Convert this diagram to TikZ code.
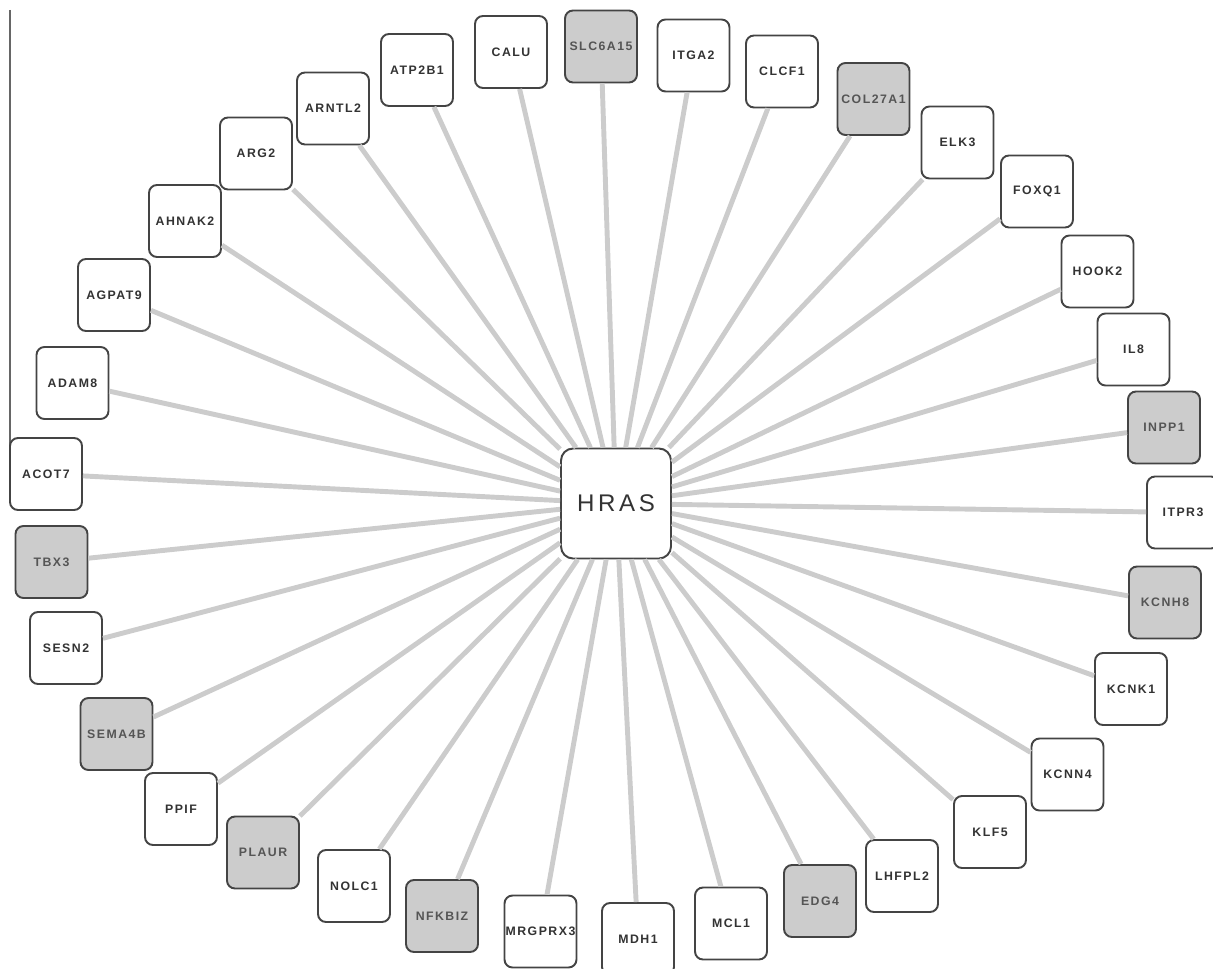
\documentclass[tikz,border=0pt]{standalone}
\usepackage{fontspec}
\setmainfont{Liberation Sans}
\newfontfamily\genefont{Liberation Sans}[LetterSpace=12]
\newfontfamily\hubfont{Liberation Sans}[LetterSpace=15]
\definecolor{boxline}{HTML}{444444}
\definecolor{genetext}{HTML}{333333}
\definecolor{hitfill}{HTML}{CCCCCC}
\definecolor{hittext}{HTML}{555555}
\definecolor{linkgray}{HTML}{CCCCCC}
\definecolor{frameline}{HTML}{666666}

\begin{document}
\begin{tikzpicture}[x=0.02cm, y=-0.02cm,
    gene/.style={draw=boxline, line width=1.1pt, rounded corners=0.16cm, fill=white,
        minimum size=1.44cm, inner sep=0pt, text=genetext,
        font=\genefont\bfseries\fontsize{7}{8}\selectfont},
    hit/.style={gene, fill=hitfill, text=hittext},
    hub/.style={gene, minimum size=2.2cm, rounded corners=0.24cm,
        font=\hubfont\fontsize{13.7}{16}\selectfont},
    link/.style={draw=linkgray, line width=2.8pt}]
    \useasboundingbox (0,0) rectangle (1213,969);
    \draw[frameline, line width=0.8pt] (10,10) -- (10,492);

    \node[hub] (hras) at (616,503.5) {HRAS};

    \node[gene] (calu) at (511,52) {CALU};
    \node[hit] (slc6a15) at (601,46.5) {SLC6A15};
    \node[gene] (itga2) at (693.5,55.5) {ITGA2};
    \node[gene] (clcf1) at (782,71.5) {CLCF1};
    \node[hit] (col27a1) at (873.5,99) {COL27A1};
    \node[gene] (elk3) at (957.5,142.5) {ELK3};
    \node[gene] (foxq1) at (1037,191.5) {FOXQ1};
    \node[gene] (hook2) at (1097.5,271.5) {HOOK2};
    \node[gene] (il8) at (1133.5,349.5) {IL8};
    \node[hit] (inpp1) at (1164,427.5) {INPP1};
    \node[gene] (itpr3) at (1183,512.5) {ITPR3};
    \node[hit] (kcnh8) at (1165,602.5) {KCNH8};
    \node[gene] (kcnk1) at (1131,689) {KCNK1};
    \node[gene] (kcnn4) at (1067.5,774.5) {KCNN4};
    \node[gene] (klf5) at (990,832) {KLF5};
    \node[gene] (lhfpl2) at (902,876) {LHFPL2};
    \node[hit] (edg4) at (820,901) {EDG4};
    \node[gene] (mcl1) at (731,923.5) {MCL1};
    \node[gene] (mdh1) at (638,939) {MDH1};
    \node[gene] (mrgprx3) at (540.5,931.5) {MRGPRX3};
    \node[hit] (nfkbiz) at (442,916) {NFKBIZ};
    \node[gene] (nolc1) at (354,886) {NOLC1};
    \node[hit] (plaur) at (263,852.5) {PLAUR};
    \node[gene] (ppif) at (181,809) {PPIF};
    \node[hit] (sema4b) at (116.5,734) {SEMA4B};
    \node[gene] (sesn2) at (66,648) {SESN2};
    \node[hit] (tbx3) at (51.5,562) {TBX3};
    \node[gene] (acot7) at (46,474) {ACOT7};
    \node[gene] (adam8) at (72.5,383) {ADAM8};
    \node[gene] (agpat9) at (114,295) {AGPAT9};
    \node[gene] (ahnak2) at (185,221) {AHNAK2};
    \node[gene] (arg2) at (256,153.5) {ARG2};
    \node[gene] (arntl2) at (333,108.5) {ARNTL2};
    \node[gene] (atp2b1) at (417,70) {ATP2B1};

    \draw[link] (hras) -- (calu) (hras) -- (slc6a15) (hras) -- (itga2)
        (hras) -- (clcf1) (hras) -- (col27a1) (hras) -- (elk3)
        (hras) -- (foxq1) (hras) -- (hook2) (hras) -- (il8)
        (hras) -- (inpp1) (hras) -- (itpr3) (hras) -- (kcnh8)
        (hras) -- (kcnk1) (hras) -- (kcnn4) (hras) -- (klf5)
        (hras) -- (lhfpl2) (hras) -- (edg4) (hras) -- (mcl1)
        (hras) -- (mdh1) (hras) -- (mrgprx3) (hras) -- (nfkbiz)
        (hras) -- (nolc1) (hras) -- (plaur) (hras) -- (ppif)
        (hras) -- (sema4b) (hras) -- (sesn2) (hras) -- (tbx3)
        (hras) -- (acot7) (hras) -- (adam8) (hras) -- (agpat9)
        (hras) -- (ahnak2) (hras) -- (arg2) (hras) -- (arntl2)
        (hras) -- (atp2b1);
\end{tikzpicture}
\end{document}
